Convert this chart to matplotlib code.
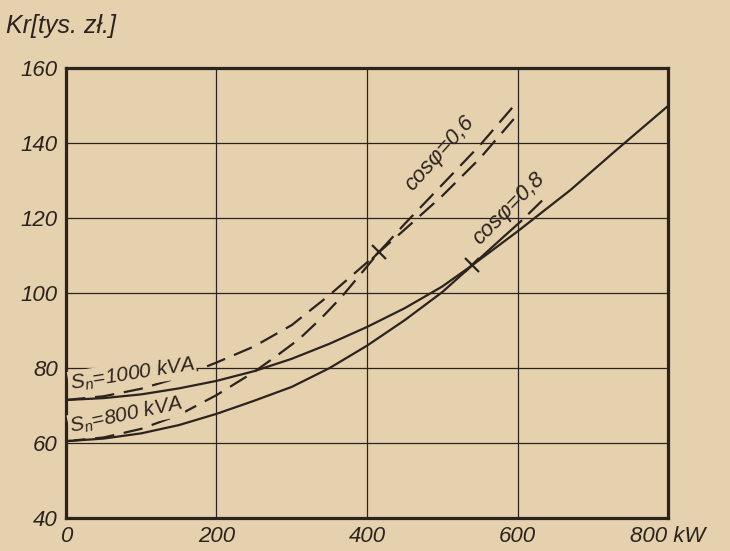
import matplotlib
matplotlib.use("Agg")
import matplotlib.pyplot as plt

# ------------------------------------------------------------------
# data (P in kW, Kr in thousand zl)
# ------------------------------------------------------------------
x_ticks = [0, 200, 400, 600, 800]
x_labels = ["0", "200", "400", "600", "800 kW"]
y_ticks = [40, 60, 80, 100, 120, 140, 160]

# Sn = 1000 kVA, cos phi = 0.8 (solid)
kw_s1000 = [0, 50, 100, 150, 200, 250, 300, 350, 400, 450, 500, 540, 600, 670, 730, 800]
kr_s1000 = [71.5, 72.0, 73.0, 74.6, 76.6, 79.2, 82.5, 86.5, 91.0, 96.0, 101.8, 107.5, 116.5, 127.5, 138.0, 150.0]

# Sn = 800 kVA, cos phi = 0.8 (solid, last bit dashed)
kw_s800 = [0, 50, 100, 150, 200, 250, 300, 350, 400, 450, 500, 540, 580, 605, 634]
kr_s800 = [60.5, 61.2, 62.6, 64.8, 67.8, 71.3, 75.0, 80.0, 86.0, 92.8, 100.3, 107.5, 114.8, 119.3, 125.0]

# Sn = 1000 kVA, cos phi = 0.6 (dashed)
kw_d1000 = [0, 50, 100, 150, 200, 250, 300, 350, 416, 450, 500, 550, 595]
kr_d1000 = [71.5, 72.5, 74.5, 77.5, 81.5, 85.8, 91.5, 99.5, 111.0, 117.0, 126.0, 136.0, 146.5]

# Sn = 800 kVA, cos phi = 0.6 (dashed)
kw_d800 = [0, 50, 100, 150, 200, 250, 280, 310, 340, 367, 416, 450, 500, 550, 595]
kr_d800 = [60.5, 61.5, 63.8, 67.5, 72.8, 79.0, 83.3, 87.8, 93.5, 99.2, 111.0, 118.5, 129.0, 139.5, 150.0]

# crossing points marked with x
cross_kw = [416, 540]
cross_kr = [111.0, 107.5]

# ------------------------------------------------------------------
# style
# ------------------------------------------------------------------
plt.rcParams['font.family'] = ['Liberation Sans', 'DejaVu Sans']
plt.rcParams['font.style'] = 'italic'
plt.rcParams['mathtext.fontset'] = 'custom'
plt.rcParams['mathtext.rm'] = 'Liberation Sans:italic'
plt.rcParams['lines.scale_dashes'] = False

PAPER = '#E6D1AF'
INK = '#2B231D'
DASH = (14, 7)

fig = plt.figure(figsize=(7.3, 5.51), dpi=100, facecolor=PAPER)
ax = fig.add_axes([0.0904, 0.0599, 0.8247, 0.8158])
ax.set_facecolor(PAPER)
ax.set_xlim(0, 800)
ax.set_ylim(40, 160)
ax.set_xticks(x_ticks)
ax.set_xticklabels(x_labels)
ax.set_yticks(y_ticks)
ax.tick_params(length=0, pad=6, labelsize=16, colors=INK)
ax.set_axisbelow(True)
ax.grid(color=INK, lw=0.9)
for sp in ax.spines.values():
    sp.set_linewidth(2.3)
    sp.set_color(INK)

# curves
ax.plot(kw_s1000, kr_s1000, color=INK, lw=1.6)
ax.plot(kw_s800[:-1], kr_s800[:-1], color=INK, lw=1.6)
# short dashed tail: start with a gap, then one dash
ax.plot(kw_s800[-2:], kr_s800[-2:], color=INK, lw=1.6, ls=(14, DASH))
ax.plot(kw_d1000, kr_d1000, color=INK, lw=1.6, dashes=DASH)
ax.plot(kw_d800, kr_d800, color=INK, lw=1.6, dashes=DASH)
ax.plot(cross_kw, cross_kr, ls='none', marker='x', ms=10, mew=1.6, color=INK)

# labels on the curves
box = dict(boxstyle='square,pad=0.05', fc=PAPER, ec='none')
ax.text(88, 78.4, r"S$_\mathrm{n}$=1000 kVA", rotation=9, ha='center', va='center',
        fontsize=15, color=INK, bbox=box)
ax.text(80, 67.4, r"S$_\mathrm{n}$=800 kVA", rotation=12, ha='center', va='center',
        fontsize=15, color=INK, bbox=box)
ax.text(497, 137.4, "cosφ=0,6", rotation=48, ha='center', va='center',
        fontsize=16, color=INK)
ax.text(588, 122.6, "cosφ=0,8", rotation=45, ha='center', va='center',
        fontsize=16, color=INK)

fig.text(0.008, 0.94, "Kr[tys. zł.]", fontsize=18, color=INK, va='baseline')

plt.savefig("out.png", dpi=100, facecolor=PAPER)
